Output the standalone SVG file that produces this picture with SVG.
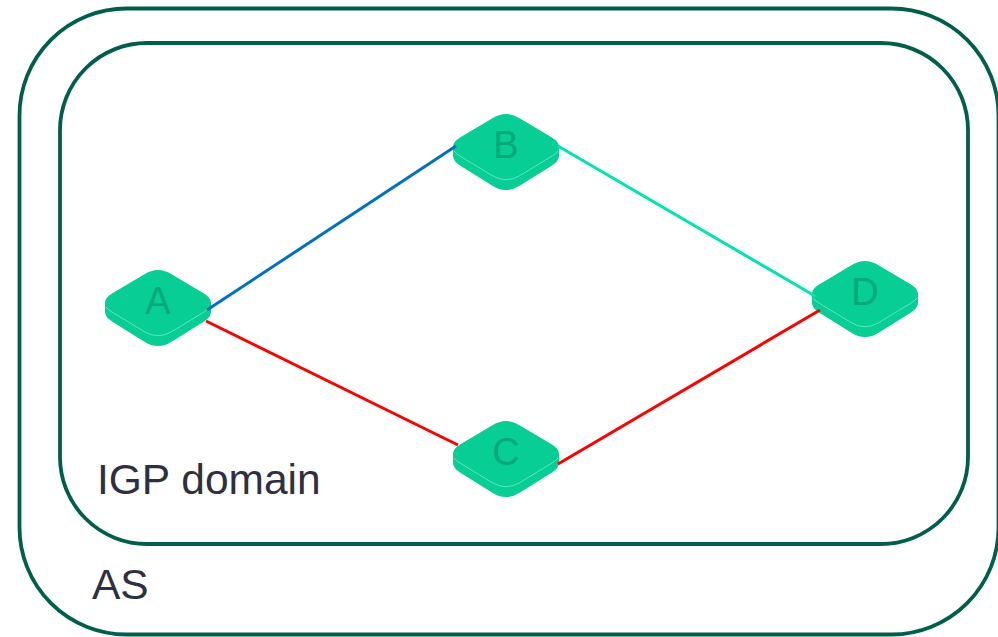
<svg xmlns="http://www.w3.org/2000/svg" width="998" height="637" viewBox="0 0 998 637">
<style>
.zone{fill:none;stroke:#005f4b;stroke-width:3.8}
.base{fill:#06ce94}
.edge{fill:none;stroke:#5fe3bd;stroke-width:1}
.letter{font-family:"Liberation Sans",Arial,sans-serif;font-size:38px;fill:#05a97b;text-anchor:middle}
.label{font-family:"Liberation Sans",Arial,sans-serif;font-size:42.500px;fill:#2d3040}
.link{fill:none;stroke-width:3}
</style>
<defs>
<g id="router">
<path class="base" d="M39 4.500Q53-4.500 67 4.500L99 23.500Q106 28 106 32.500V42Q106 47 99 51.500L67 71.500Q53 80.500 39 71.500L7 51.500Q0 47 0 42V32.500Q0 28 7 23.500Z"/>
<path class="edge" d="M1 37Q2 39 7 42L39 61.500Q53 70 67 61.500L99 42Q104 39 105 37"/>
</g>
</defs>
<rect id="as-zone" class="zone" x="19.500" y="8.500" width="979" height="626" rx="107" ry="107"/>
<rect id="igp-zone" class="zone" x="60" y="43" width="908" height="501" rx="87" ry="87"/>
<g id="node-a"><use href="#router" x="105" y="270"/><text class="letter" x="158" y="314">A</text></g>
<g id="node-b"><use href="#router" x="453" y="114"/><text class="letter" x="506" y="158">B</text></g>
<g id="node-c"><use href="#router" x="453" y="421"/><text class="letter" x="506" y="465">C</text></g>
<g id="node-d"><use href="#router" x="812" y="261"/><text class="letter" x="865" y="305">D</text></g>
<g id="connectors">
<line class="link" x1="207" y1="310" x2="456" y2="146" stroke="#0070c0"/>
<line class="link" x1="206" y1="321" x2="458" y2="445" stroke="#ff0000"/>
<line class="link" x1="558" y1="146" x2="815" y2="296" stroke="#00e5b0"/>
<line class="link" x1="558" y1="464" x2="820" y2="310" stroke="#ff0000"/>
</g>
<text class="label" x="97" y="494">IGP domain</text>
<text class="label" x="92" y="599">AS</text>
</svg>
